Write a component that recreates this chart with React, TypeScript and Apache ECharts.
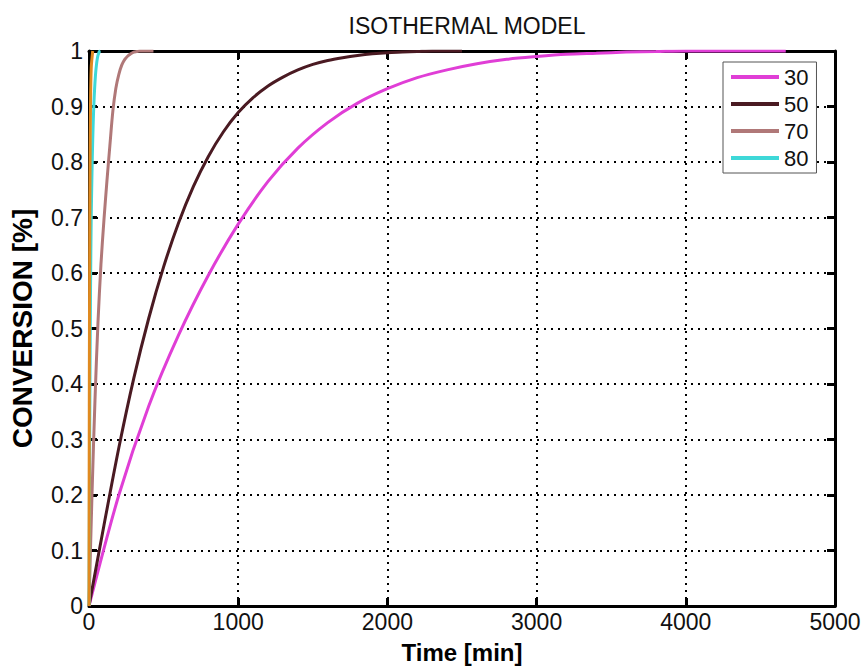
import React, { useEffect, useRef } from 'react';
import * as echarts from 'echarts';

const FONT = "'Liberation Sans', Arial, Helvetica, sans-serif";

const xTicks = [0, 1000, 2000, 3000, 4000, 5000];
const yTicks = [0, 0.1, 0.2, 0.3, 0.4, 0.5, 0.6, 0.7, 0.8, 0.9, 1];

const legendNames = ['30', '50', '70', '80'];

const t30 = [0, 200, 400, 600, 800, 1000, 1200, 1400, 1600, 1800, 2000, 2200, 2400, 2600, 2800, 3000, 3200, 3400, 3600, 3800, 4000, 4200, 4400, 4670];
const x30 = [0, 0.2, 0.36, 0.488, 0.596, 0.688, 0.765, 0.825, 0.871, 0.906, 0.932, 0.952, 0.966, 0.977, 0.985, 0.99, 0.994, 0.996, 0.998, 0.999, 1.0, 1.0, 1.0, 1.0];

const t50 = [0, 100, 200, 300, 400, 500, 600, 700, 800, 900, 1000, 1100, 1200, 1300, 1400, 1500, 1600, 1700, 1800, 1900, 2000, 2100, 2200, 2300, 2400, 2500];
const x50 = [0, 0.145, 0.285, 0.41, 0.518, 0.611, 0.69, 0.756, 0.81, 0.854, 0.889, 0.916, 0.937, 0.953, 0.966, 0.976, 0.983, 0.988, 0.992, 0.995, 0.997, 0.998, 0.999, 1.0, 1.0, 1.0];

const t70 = [0, 20, 40, 60, 80, 100, 120, 140, 160, 180, 200, 220, 240, 260, 280, 300, 320, 340, 360, 380, 400, 432];
const x70 = [0, 0.2, 0.37, 0.51, 0.615, 0.695, 0.765, 0.83, 0.892, 0.933, 0.958, 0.975, 0.985, 0.991, 0.995, 0.998, 0.999, 1.0, 1.0, 1.0, 1.0, 1.0];

const t80 = [0, 5, 10, 15, 20, 25, 30, 35, 40, 45, 50, 55, 60, 65, 70, 77];
const x80 = [0, 0.33, 0.56, 0.7, 0.78, 0.84, 0.885, 0.918, 0.943, 0.962, 0.975, 0.985, 0.992, 0.996, 0.999, 1.0];

const tExtra = [0, 1, 2, 3, 5, 7, 10, 15, 25];
const xExtra = [0, 0.2, 0.36, 0.49, 0.67, 0.79, 0.9, 0.97, 1.0];

const pairs = (t: number[], x: number[]) => t.map((v, i) => [v, x[i]]);

export default function App() {
  const ref = useRef<HTMLDivElement>(null);
  useEffect(() => {
    const chart = echarts.init(ref.current!, null, { renderer: 'svg' });
    const axisLine = { show: true, onZero: false, lineStyle: { color: '#000', width: 3 } };
    const tick = { show: true, inside: true, length: 8, lineStyle: { color: '#000', width: 3 } };
    const split = { show: true, lineStyle: { color: '#000', type: [2, 5], width: 2 } };
    const lineSeries = (name: string, data: number[][], color: string) => ({
      name,
      type: 'line',
      data,
      showSymbol: false,
      symbol: 'none',
      smooth: 0.3,
      lineStyle: { color, width: 3 },
      itemStyle: { color },
      xAxisIndex: 0,
      yAxisIndex: 0,
    });
    chart.setOption({
      animation: false,
      backgroundColor: '#fff',
      title: {
        text: 'ISOTHERMAL MODEL',
        left: 462,
        top: 9,
        textAlign: 'center',
        textStyle: { fontSize: 23, fontWeight: 'normal', color: '#111', fontFamily: FONT },
      },
      legend: {
        data: legendNames,
        orient: 'vertical',
        left: 723,
        top: 62,
        backgroundColor: '#fff',
        borderColor: '#555',
        borderWidth: 1,
        padding: [4, 8, 4, 8],
        itemWidth: 48,
        itemHeight: 4,
        itemGap: 5,
        icon: 'rect',
        textStyle: { fontSize: 22, color: '#111', fontFamily: FONT },
      },
      grid: { left: 89, right: 31, top: 51, bottom: 61, containLabel: false },
      xAxis: [
        {
          type: 'value',
          min: 0,
          max: 5000,
          interval: 1000,
          position: 'bottom',
          axisLine,
          axisTick: tick,
          axisLabel: {
            fontSize: 23,
            color: '#111',
            margin: 4,
            fontFamily: FONT,
            showMinLabel: true,
            showMaxLabel: true,
            formatter: (v: number) => (xTicks.includes(v) ? String(v) : ''),
          },
          splitLine: split,
          name: 'Time [min]',
          nameLocation: 'middle',
          nameGap: 34,
          nameTextStyle: { fontSize: 24, fontWeight: 'bold', color: '#000', fontFamily: FONT },
        },
        {
          type: 'value',
          min: 0,
          max: 5000,
          interval: 1000,
          position: 'top',
          axisLine,
          axisTick: tick,
          axisLabel: { show: false },
          splitLine: { show: false },
        },
      ],
      yAxis: [
        {
          type: 'value',
          min: 0,
          max: 1,
          interval: 0.1,
          position: 'left',
          axisLine,
          axisTick: tick,
          axisLabel: {
            fontSize: 23,
            color: '#111',
            margin: 6,
            fontFamily: FONT,
            formatter: (v: number) => {
              const r = Math.round(v * 10) / 10;
              return yTicks.includes(r) ? String(r) : '';
            },
          },
          splitLine: split,
          name: 'CONVERSION [%]',
          nameLocation: 'middle',
          nameGap: 53,
          nameTextStyle: { fontSize: 28, fontWeight: 'bold', color: '#000', fontFamily: FONT },
        },
        {
          type: 'value',
          min: 0,
          max: 1,
          interval: 0.1,
          position: 'right',
          axisLine,
          axisTick: tick,
          axisLabel: { show: false },
          splitLine: { show: false },
        },
      ],
      series: [
        lineSeries('30', pairs(t30, x30), '#e03ed6'),
        lineSeries('50', pairs(t50, x50), '#4a1a22'),
        lineSeries('70', pairs(t70, x70), '#b07878'),
        lineSeries('80', pairs(t80, x80), '#3ed8d8'),
        lineSeries('90', pairs(tExtra, xExtra), '#e08a20'),
      ],
    });
    return () => chart.dispose();
  }, []);
  return (
    <div
      ref={ref}
      style={{ position: 'absolute', left: 0, top: 0, width: 866, height: 669, background: '#fff' }}
    />
  );
}
